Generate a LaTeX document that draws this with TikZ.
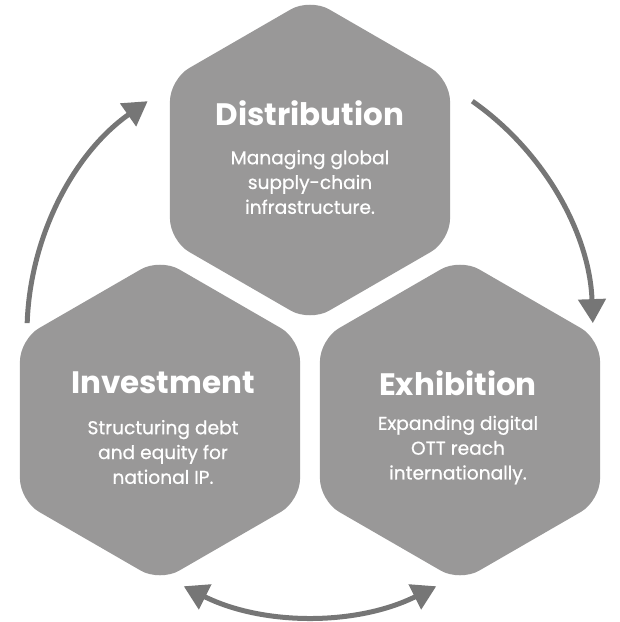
\documentclass[tikz,border=0pt]{standalone}
\usepackage{fontspec}
\setmainfont{Poppins}
\newfontfamily\bodyfont[FakeBold=0.7]{Poppins}
\usetikzlibrary{arrows.meta,calc}
\definecolor{hexfill}{HTML}{999898}
\definecolor{arrowcol}{HTML}{767676}
\tikzset{
  hexpic/.pic={\fill[hexfill, rounded corners=22pt] (90:161.7) -- (150:161.7) -- (210:161.7) -- (270:161.7) -- (330:161.7) -- (30:161.7) -- cycle;},
  titletext/.style={text=white, font=\bfseries\fontsize{31}{36}\selectfont, anchor=center, inner sep=0pt},
  bodytext/.style={text=white, font=\bodyfont\fontsize{18.6}{24.8}\selectfont, align=center, anchor=center, inner sep=0pt},
  cyc/.style={draw=arrowcol, line width=5pt, -{Triangle[length=24pt,width=27pt]}},
  cycboth/.style={draw=arrowcol, line width=5pt, {Triangle[length=24pt,width=27pt]}-{Triangle[length=24pt,width=27pt]}}
}
\begin{document}
\begin{tikzpicture}[x=1pt,y=1pt]
\useasboundingbox (0,0) rectangle (620,-622);
\coordinate (ctr) at (310,-333);
\pic at (310,-160) {hexpic};
\pic at (160,-420) {hexpic};
\pic at (460,-420) {hexpic};
\node[titletext] (dt) at (310,-113) {Distribution};
\node[bodytext] (db) at (310,-182) {Managing global\\supply-chain\\infrastructure.};
\node[titletext] (it) at (163,-383) {Investment};
\node[bodytext] (ib) at (163,-452) {Structuring debt\\and equity for\\national IP.};
\node[titletext] (et) at (458,-383) {Exhibition};
\node[bodytext] (eb) at (458,-450) {Expanding digital\\OTT reach\\internationally.};
\coordinate (a1) at ($(ctr)+(178:283)$);
\coordinate (a2) at ($(ctr)+(55:283)$);
\coordinate (a3) at ($(ctr)+(243.5:283)$);
\draw[cyc] (a1) arc (178:125:283);
\draw[cyc] (a2) arc (55:2:283);
\draw[cycboth] (a3) arc (243.5:296.5:283);
\end{tikzpicture}
\end{document}
